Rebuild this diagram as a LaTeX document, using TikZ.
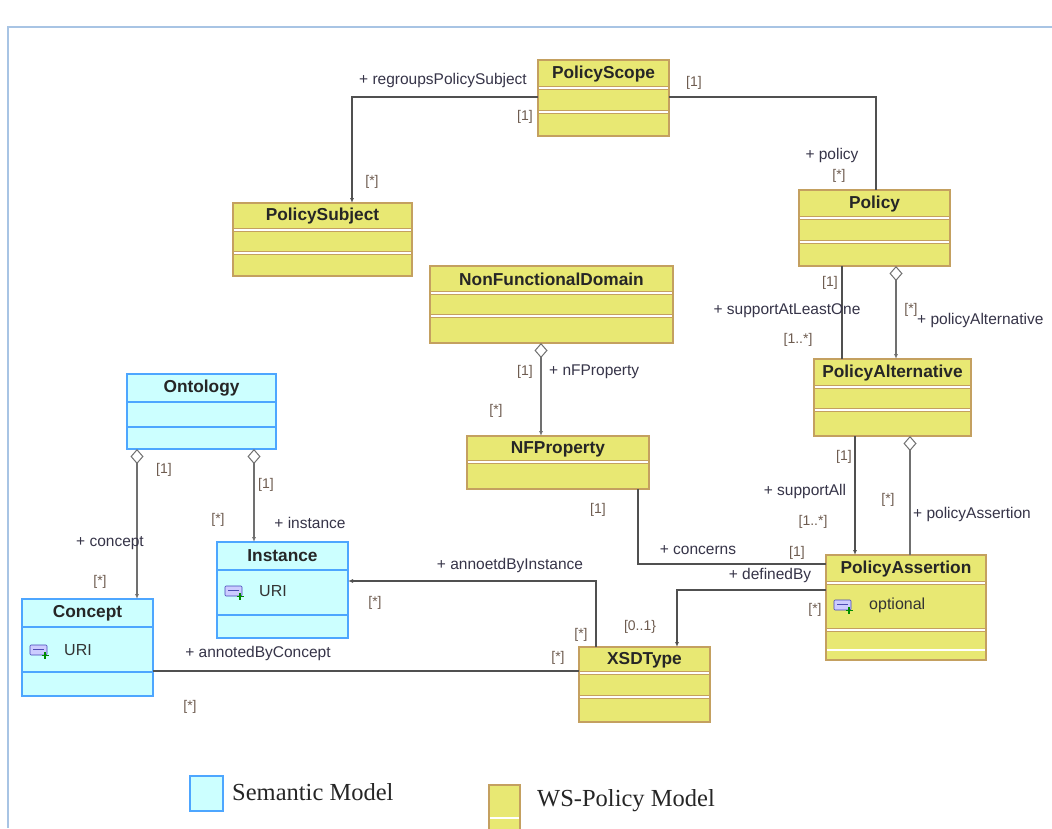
\documentclass[tikz,border=0pt]{standalone}
\usepackage{fontspec}
\setmainfont{Liberation Sans}
\newfontfamily\legendfont{Liberation Serif}
\usetikzlibrary{arrows.meta}
\definecolor{yfill}{HTML}{E8E873}
\definecolor{ydraw}{HTML}{C4A060}
\definecolor{bfill}{HTML}{CCFFFF}
\definecolor{bdraw}{HTML}{4DA6FF}
\definecolor{framec}{HTML}{A8C4E4}
\definecolor{rolec}{HTML}{363448}
\definecolor{multc}{HTML}{6E5C50}
\definecolor{connc}{HTML}{505050}
\definecolor{aggc}{HTML}{707070}
\tikzset{
 ycls/.style={draw=ydraw, fill=yfill, line width=1.3pt, inner sep=0pt, outer sep=0pt},
 bcls/.style={draw=bdraw, fill=bfill, line width=1.3pt, inner sep=0pt, outer sep=0pt},
 ttl/.style={font=\fontsize{17.3}{20}\selectfont\bfseries, text=black!85, inner sep=0pt},
 attr/.style={font=\fontsize{16}{19}\selectfont, text=black!80, inner sep=0pt},
 rolelab/.style={font=\fontsize{15.5}{18}\selectfont, text=rolec, inner sep=0pt},
 mul/.style={font=\fontsize{14}{17}\selectfont, text=multc, inner sep=0pt},
 assoc/.style={draw=connc, line width=1.2pt},
 nav/.style={-{Latex[length=5pt,width=4pt]}},
 agg/.style={draw=aggc, line width=1.6pt, {Diamond[fill=white,length=15pt,width=13pt,line width=1pt]}-},
 aggnav/.style={draw=aggc, line width=1.6pt, {Diamond[fill=white,length=15pt,width=13pt,line width=1pt]}-{Latex[length=5pt,width=4pt]}},
 legtxt/.style={font=\legendfont\fontsize{24.5}{28}\selectfont, text=black!85, inner sep=0pt}
}
% #1 y/b, #2 name, #3 x1, #4 y1, #5 x2, #6 y2, #7 d1, #8 d2 (0 = none), #9 title
\newcommand\umlclass[9]{%
 \node[#1cls, anchor=north west, minimum width={#5-#3}, minimum height={#6-#4}] (#2) at (#3,#4) {};
 \node[ttl] (#2-t) at ({(#3+#5)/2},{(#4+#7)/2}) {#9};
 \umldiv{#1}{#3}{#5}{#7}%
 \ifnum#8>0 \umldiv{#1}{#3}{#5}{#8}\fi
}
\newcommand\umldiv[4]{%
 \if#1y
  \draw[ydraw, line width=3.4pt] ({#2+0.7},#4) -- ({#3-0.7},#4);
  \draw[white, line width=1.4pt] ({#2+0.7},#4) -- ({#3-0.7},#4);
 \else
  \draw[bdraw, line width=1.2pt] (#2,#4) -- (#3,#4);
 \fi
}
\newcommand\attricon[2]{%
 \draw[draw=blue!45!gray, fill=blue!20!white, line width=0.6pt, rounded corners=1pt] ({#1-9},{#2-5}) rectangle ({#1+8},{#2+5});
 \draw[blue!40!gray, line width=0.8pt] ({#1-6},{#2-1}) -- ({#1+5},{#2-1});
 \draw[green!55!black, line width=1.3pt] ({#1+6},{#2+2}) -- ({#1+6},{#2+9}) ({#1+2.5},{#2+5.5}) -- ({#1+9.5},{#2+5.5});
}
\begin{document}
\begin{tikzpicture}[x=1pt,y=-1pt]
\useasboundingbox (0,0) rectangle (1052,828);
\fill[white] (0,0) rectangle (1052,828);
% frame
\draw[framec, line width=2.5pt] (8,828) -- (8,27) -- (1052,27);

% classes
\umlclass{y}{ps}{538}{60}{669}{136}{88}{112}{PolicyScope}
\umlclass{y}{psub}{233}{203}{412}{276}{230}{253}{PolicySubject}
\umlclass{y}{nfd}{430}{266}{673}{343}{293}{316}{NonFunctionalDomain}
\umlclass{y}{pol}{799}{190}{950}{266}{218}{242}{Policy}
\umlclass{y}{palt}{814}{359}{971}{436}{387}{410}{PolicyAlternative}
\umlclass{b}{ont}{127}{374}{276}{449}{402}{427}{Ontology}
\umlclass{b}{inst}{217}{542}{348}{638}{570}{615}{Instance}
\umlclass{b}{conc}{22}{599}{153}{696}{627}{672}{Concept}
\umlclass{y}{nfp}{467}{436}{649}{489}{462}{0}{NFProperty}
\umlclass{y}{xsd}{579}{647}{710}{722}{673}{697}{XSDType}
\umlclass{y}{pas}{826}{555}{986}{660}{583}{630}{PolicyAssertion}
\draw[white, line width=1.6pt] (827,650) -- (985,650);

% attributes
\attricon{234}{591}
\node[attr, anchor=west] (inst-a) at (259,591) {URI};
\attricon{39}{650}
\node[attr, anchor=west] (conc-a) at (64,650) {URI};
\attricon{843}{605}
\node[attr, anchor=west] (pas-a) at (869,605) {optional};

% connectors
\coordinate (c1) at (352,97);
\draw[assoc,nav] (ps.west |- c1) -- (c1) -- (psub.north -| c1);
\coordinate (c2) at (876,97);
\draw[assoc] (ps.east |- c2) -- (c2) -- (pol.north -| c2);
\coordinate (c3) at (842,300);
\draw[assoc] (pol.south -| c3) -- (palt.north -| c3);
\coordinate (c4) at (896,300);
\draw[aggnav] (pol.south -| c4) -- (palt.north -| c4);
\coordinate (c5) at (855,500);
\draw[assoc,nav] (palt.south -| c5) -- (pas.north -| c5);
\coordinate (c6) at (910,500);
\draw[agg] (palt.south -| c6) -- (pas.north -| c6);
\coordinate (c7) at (541,390);
\draw[aggnav] (nfd.south -| c7) -- (nfp.north -| c7);
\coordinate (c8) at (638,564);
\draw[assoc] (nfp.south -| c8) -- (c8) -- (pas.west |- c8);
\coordinate (c9) at (677,590);
\draw[assoc,nav] (pas.west |- c9) -- (c9) -- (xsd.north -| c9);
\coordinate (c10) at (596,581);
\draw[assoc,nav] (xsd.north -| c10) -- (c10) -- (inst.east |- c10);
\coordinate (c11) at (400,671);
\draw[assoc] (conc.east |- c11) -- (xsd.west |- c11);
\coordinate (c12) at (137,520);
\draw[aggnav] (ont.south -| c12) -- (conc.north -| c12);
\coordinate (c13) at (254,500);
\draw[aggnav] (ont.south -| c13) -- (inst.north -| c13);

% labels
\node[rolelab, anchor=east] (l1) at (527,80) {+ regroupsPolicySubject};
\node[mul] (m1) at (525,117) {[1]};
\node[mul] (m2) at (372,182) {[*]};
\node[mul] (m3) at (694,83) {[1]};
\node[rolelab] (l2) at (832,155) {+ policy};
\node[mul] (m4) at (839,176) {[*]};
\node[mul] (m5) at (830,283) {[1]};
\node[rolelab] (l3) at (787,311) {+ supportAtLeastOne};
\node[mul] (m6) at (798,340) {[1..*]};
\node[mul] (m7) at (911,310) {[*]};
\node[rolelab, anchor=west] (l4) at (917,320) {+ policyAlternative};
\node[mul] (m8) at (844,457) {[1]};
\node[rolelab] (l5) at (805,491) {+ supportAll};
\node[mul] (m9) at (813,522) {[1..*]};
\node[mul] (m10) at (888,500) {[*]};
\node[rolelab, anchor=west] (l6) at (913,514) {+ policyAssertion};
\node[mul] (m11) at (797,553) {[1]};
\node[rolelab] (l7) at (698,550) {+ concerns};
\node[rolelab] (l8) at (770,575) {+ definedBy};
\node[mul] (m12) at (815,610) {[*]};
\node[mul] (m13) at (640,627) {[0..1\}};
\node[rolelab] (l9) at (510,565) {+ annoetdByInstance};
\node[mul] (m14) at (375,603) {[*]};
\node[mul] (m15) at (581,635) {[*]};
\node[mul] (m16) at (558,658) {[*]};
\node[rolelab] (l10) at (258,653) {+ annotedByConcept};
\node[mul] (m17) at (190,707) {[*]};
\node[mul] (m18) at (164,470) {[1]};
\node[rolelab] (l11) at (110,543) {+ concept};
\node[mul] (m19) at (100,582) {[*]};
\node[mul] (m20) at (266,485) {[1]};
\node[mul] (m21) at (218,520) {[*]};
\node[rolelab] (l12) at (310,523) {+ instance};
\node[mul] (m22) at (525,372) {[1]};
\node[rolelab, anchor=west] (l13) at (549,372) {+ nFProperty};
\node[mul] (m23) at (496,411) {[*]};
\node[mul] (m24) at (598,510) {[1]};

% legend
\node[bcls, anchor=north west, minimum width=33, minimum height=35] (legb) at (190,776) {};
\node[legtxt, anchor=west] (legbt) at (232,792) {Semantic Model};
\node[ycls, anchor=north west, minimum width=31, minimum height=45] (legy) at (489,785) {};
\draw[white, line width=1.6pt] (490,818) -- (519,818);
\node[legtxt, anchor=west] (legyt) at (537,801) {WS-Policy Model};
\end{tikzpicture}
\end{document}
